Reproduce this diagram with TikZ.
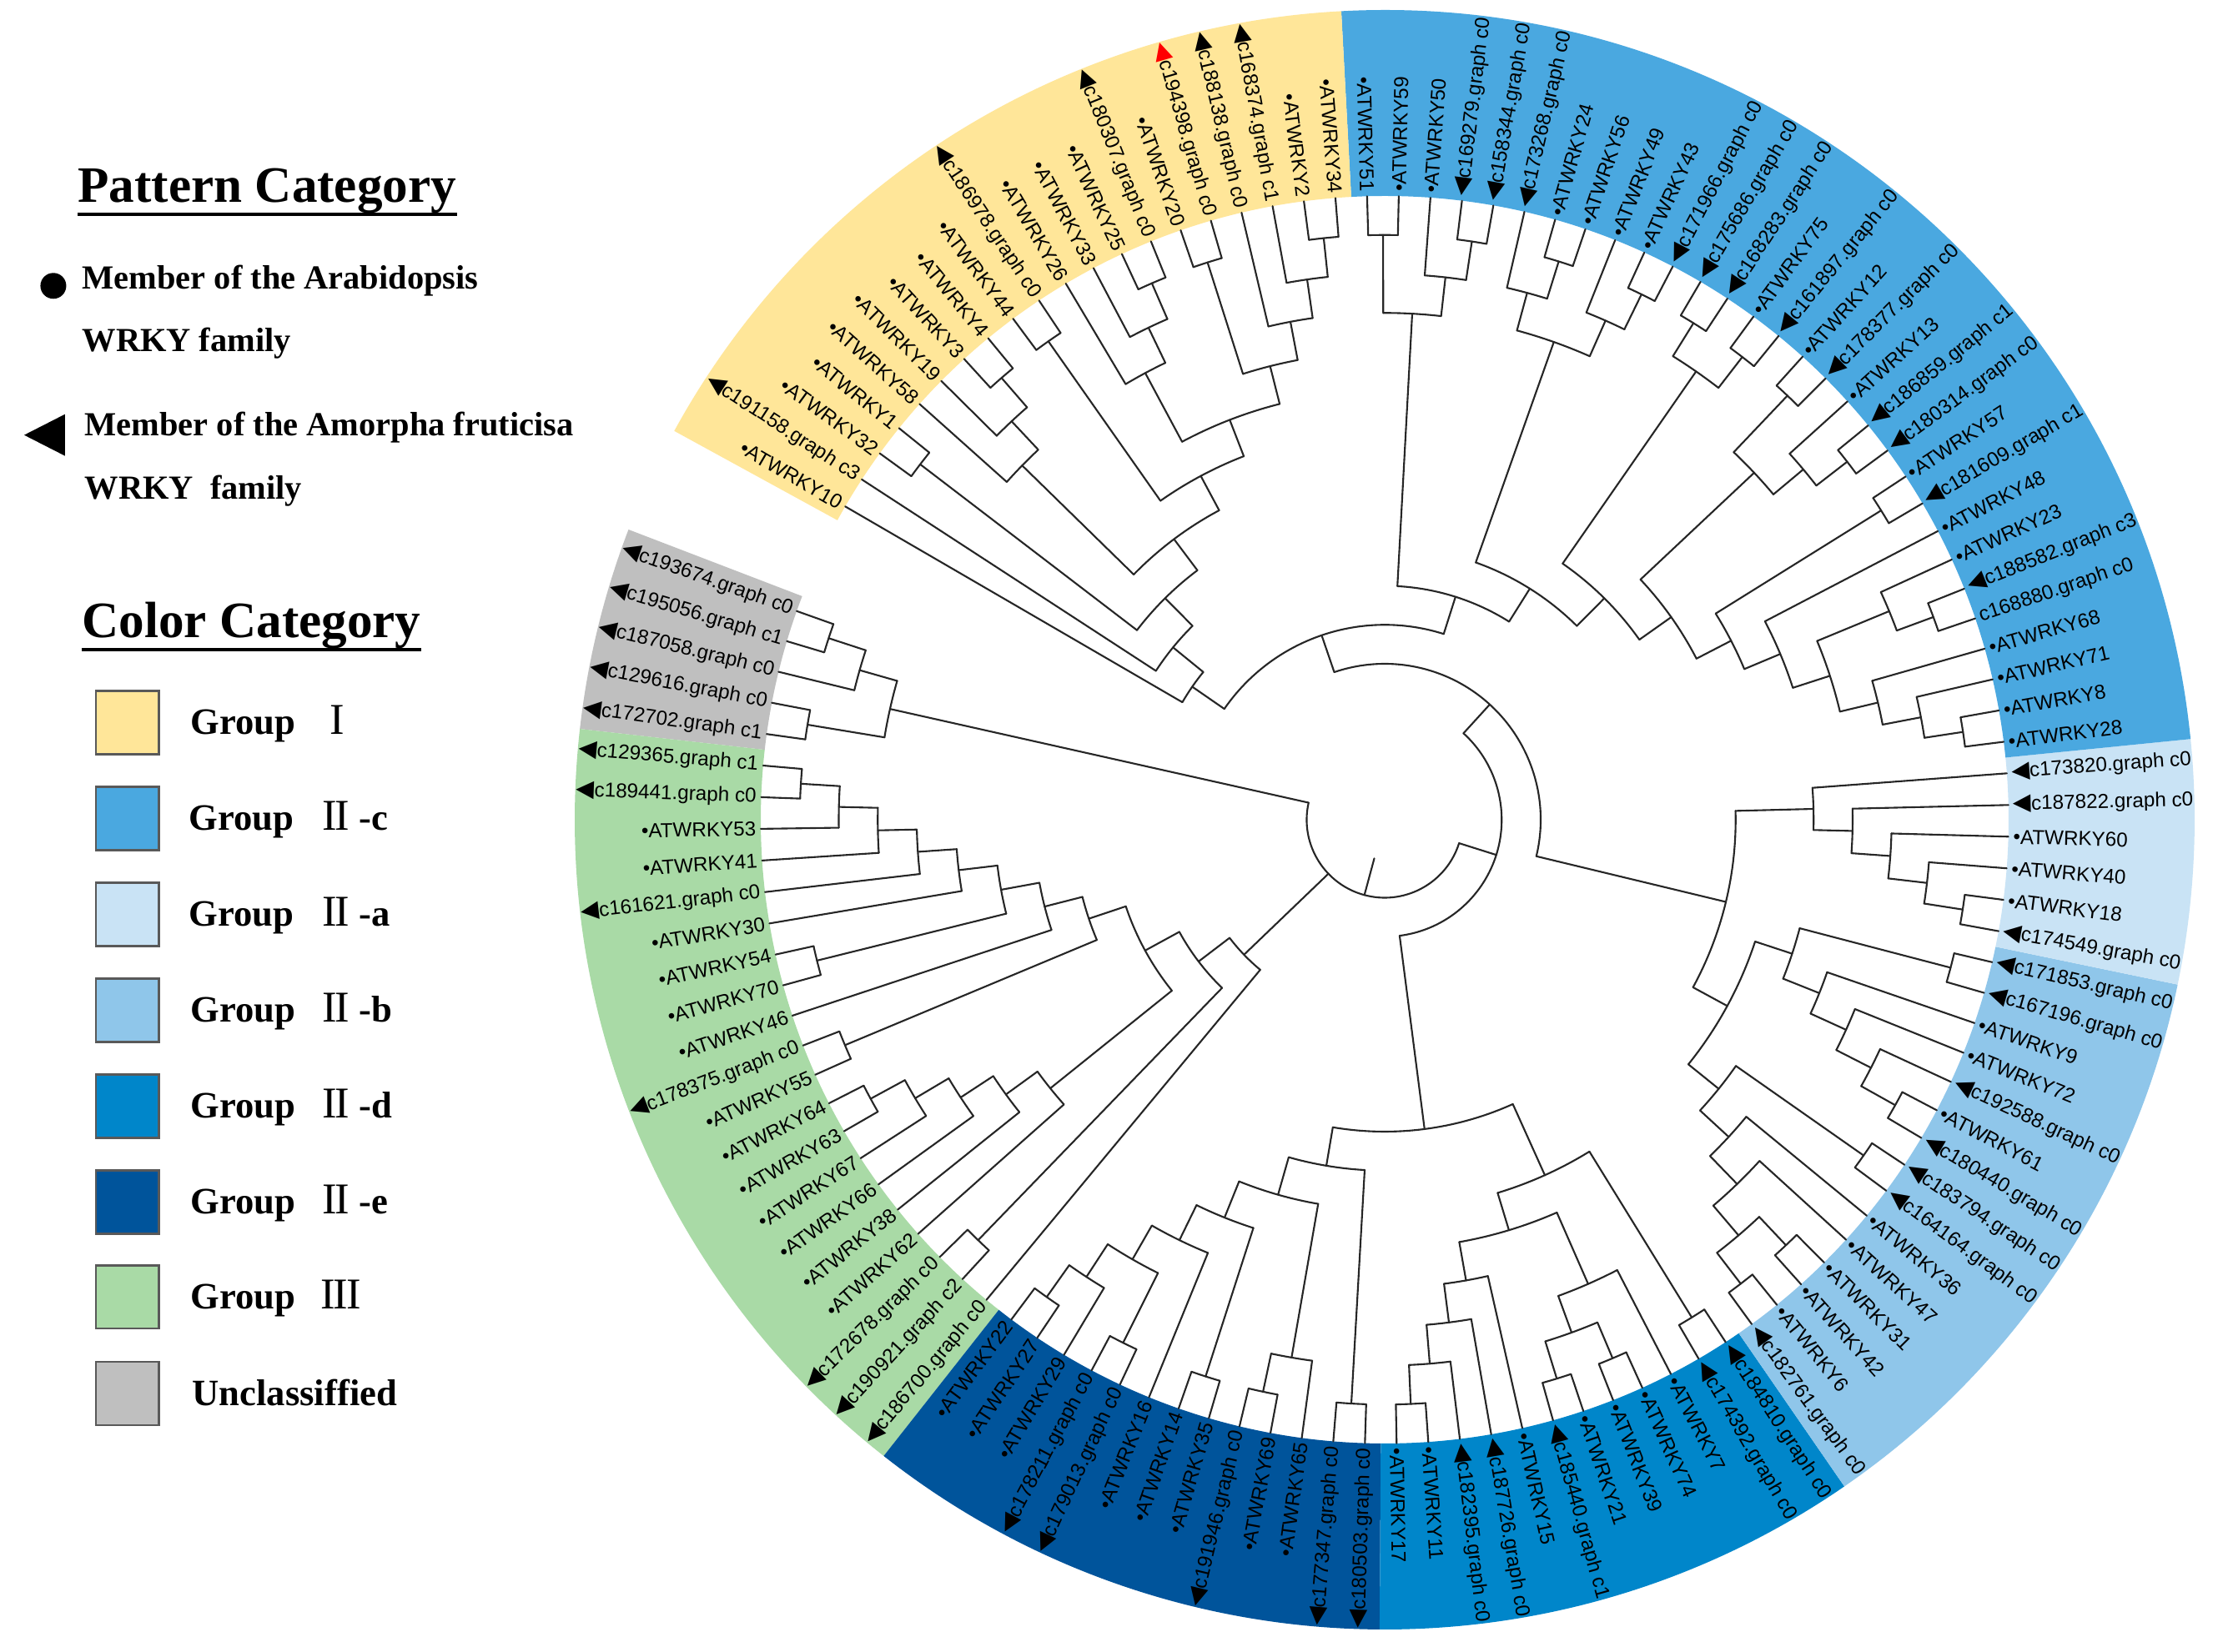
\documentclass[tikz,border=0pt]{standalone}
\usepackage{fontspec}
\setmainfont{Liberation Serif}
\newfontfamily\labf{Liberation Sans}
\newfontfamily\symf{DejaVu Sans}
\definecolor{cI}{HTML}{FFE699}
\definecolor{cIIc}{HTML}{4AA8E0}
\definecolor{cIIa}{HTML}{C9E3F5}
\definecolor{cIIb}{HTML}{8FC6EA}
\definecolor{cIId}{HTML}{0086CA}
\definecolor{cIIe}{HTML}{00549B}
\definecolor{cIII}{HTML}{A9DAA6}
\definecolor{cUn}{HTML}{BFBFBF}
\def\Rtip{7.48}\def\Rout{9.71}\def\dH{0.4675}
\def\aZero{160.456}\def\aStep{2.9116}
\def\mkd{•}
\def\mkt{{\symf\fontsize{8}{8}\selectfont ◀}}
\def\mkr{{\color{red}\symf\fontsize{8}{8}\selectfont ◀}}
\def\mkn{}
\newcommand\rnum[1]{{\mdseries\fontsize{15}{16}\selectfont #1}}
\newcommand\leaf[3]{%
  \pgfmathsetmacro\lfa{\aZero+#1*\aStep}%
  \expandafter\xdef\csname angL#1\endcsname{\lfa}%
  \expandafter\xdef\csname hhL#1\endcsname{0}%
  \expandafter\xdef\csname rrL#1\endcsname{\Rtip}%
  \coordinate (L#1) at (\lfa:\Rtip);
  \pgfmathsetmacro\lfm{mod(\lfa,360)}%
  \pgfmathsetmacro\lfr{\Rtip+0.03}%
  \ifdim\lfm pt>90pt\relax
    \ifdim\lfm pt<270pt\relax
      \pgfmathsetmacro\lfrot{\lfa-180}\def\lfanc{east}%
    \else
      \pgfmathsetmacro\lfrot{\lfa}\def\lfanc{west}%
    \fi
  \else
    \pgfmathsetmacro\lfrot{\lfa}\def\lfanc{west}%
  \fi
  \node[lab, anchor=\lfanc, rotate=\lfrot] (T#1) at (\lfa:\lfr) {\csname mk#2\endcsname#3};
}
\newcommand\clade[2]{%
  \gdef\cmin{9999}\gdef\cmax{-9999}\gdef\hmax{0}%
  \foreach \chld in {#2}{%
    \edef\caa{\csname ang\chld\endcsname}%
    \edef\chh{\csname hh\chld\endcsname}%
    \pgfmathsetmacro\tmpv{min(\cmin,\caa)}\global\let\cmin\tmpv
    \pgfmathsetmacro\tmpv{max(\cmax,\caa)}\global\let\cmax\tmpv
    \pgfmathsetmacro\tmpv{max(\hmax,\chh)}\global\let\hmax\tmpv
  }%
  \pgfmathsetmacro\cmid{(\cmin+\cmax)/2}%
  \pgfmathsetmacro\cH{\hmax+1}%
  \pgfmathsetmacro\cR{\Rtip-\cH*\dH}%
  \expandafter\xdef\csname ang#1\endcsname{\cmid}%
  \expandafter\xdef\csname hh#1\endcsname{\cH}%
  \expandafter\xdef\csname rr#1\endcsname{\cR}%
  \draw[br] (\cmin:\cR) arc[start angle=\cmin, end angle=\cmax, radius=\cR];
  \foreach \chld in {#2}{%
    \edef\caa{\csname ang\chld\endcsname}%
    \edef\crr{\csname rr\chld\endcsname}%
    \draw[br] (\caa:\cR) -- (\caa:\crr);
  }%
  \coordinate (#1) at (\cmid:\cR);
}
\newcommand\band[3]{%
  \fill[#1] (#2:\Rtip) arc[start angle=#2,end angle=#3,radius=\Rtip] -- (#3:\Rout) arc[start angle=#3,end angle=#2,radius=\Rout] -- cycle;}
\begin{document}
\begin{tikzpicture}[br/.style={line width=0.6pt, draw=black!85, line cap=round},
  lab/.style={font=\labf\fontsize{6.9}{8}\selectfont, inner sep=0.6pt},
  legt/.style={font=\bfseries\fontsize{17.4}{20}\selectfont, inner sep=0pt, anchor=base west},
  legm/.style={font=\bfseries\fontsize{11.5}{13}\selectfont, inner sep=0pt, anchor=base west},
  grp/.style={font=\bfseries\fontsize{12.7}{14}\selectfont, inner sep=0pt, anchor=base west},
  sw/.style={draw=black!65, line width=0.8pt}]
\useasboundingbox (-16.60,-9.98) rectangle (9.93,9.83);
\fill[white] (-16.60,-9.98) rectangle (9.93,9.83);
% colour bands
\band{cUn}{159.000}{173.558}
\band{cIII}{173.558}{231.790}
\band{cIIe}{231.790}{269.641}
\band{cIId}{269.641}{304.580}
\band{cIIb}{304.580}{348.254}
\band{cIIa}{348.254}{365.724}
\band{cIIc}{365.724}{453.072}
\band{cI}{453.072}{511.304}
% leaves
\leaf{0}{t}{c193674.graph c0}
\leaf{1}{t}{c195056.graph c1}
\leaf{2}{t}{c187058.graph c0}
\leaf{3}{t}{c129616.graph c0}
\leaf{4}{t}{c172702.graph c1}
\leaf{5}{t}{c129365.graph c1}
\leaf{6}{t}{c189441.graph c0}
\leaf{7}{d}{ATWRKY53}
\leaf{8}{d}{ATWRKY41}
\leaf{9}{t}{c161621.graph c0}
\leaf{10}{d}{ATWRKY30}
\leaf{11}{d}{ATWRKY54}
\leaf{12}{d}{ATWRKY70}
\leaf{13}{d}{ATWRKY46}
\leaf{14}{t}{c178375.graph c0}
\leaf{15}{d}{ATWRKY55}
\leaf{16}{d}{ATWRKY64}
\leaf{17}{d}{ATWRKY63}
\leaf{18}{d}{ATWRKY67}
\leaf{19}{d}{ATWRKY66}
\leaf{20}{d}{ATWRKY38}
\leaf{21}{d}{ATWRKY62}
\leaf{22}{t}{c172678.graph c0}
\leaf{23}{t}{c190921.graph c2}
\leaf{24}{t}{c186700.graph c0}
\leaf{25}{d}{ATWRKY22}
\leaf{26}{d}{ATWRKY27}
\leaf{27}{d}{ATWRKY29}
\leaf{28}{t}{c178211.graph c0}
\leaf{29}{t}{c179013.graph c0}
\leaf{30}{d}{ATWRKY16}
\leaf{31}{d}{ATWRKY14}
\leaf{32}{d}{ATWRKY35}
\leaf{33}{t}{c191946.graph c0}
\leaf{34}{d}{ATWRKY69}
\leaf{35}{d}{ATWRKY65}
\leaf{36}{t}{c177347.graph c0}
\leaf{37}{t}{c180503.graph c0}
\leaf{38}{d}{ATWRKY17}
\leaf{39}{d}{ATWRKY11}
\leaf{40}{t}{c182395.graph c0}
\leaf{41}{t}{c187726.graph c0}
\leaf{42}{d}{ATWRKY15}
\leaf{43}{t}{c185440.graph c1}
\leaf{44}{d}{ATWRKY21}
\leaf{45}{d}{ATWRKY39}
\leaf{46}{d}{ATWRKY74}
\leaf{47}{d}{ATWRKY7}
\leaf{48}{t}{c174392.graph c0}
\leaf{49}{t}{c184810.graph c0}
\leaf{50}{t}{c182761.graph c0}
\leaf{51}{d}{ATWRKY6}
\leaf{52}{d}{ATWRKY42}
\leaf{53}{d}{ATWRKY31}
\leaf{54}{d}{ATWRKY47}
\leaf{55}{d}{ATWRKY36}
\leaf{56}{t}{c164164.graph c0}
\leaf{57}{t}{c183794.graph c0}
\leaf{58}{t}{c180440.graph c0}
\leaf{59}{d}{ATWRKY61}
\leaf{60}{t}{c192588.graph c0}
\leaf{61}{d}{ATWRKY72}
\leaf{62}{d}{ATWRKY9}
\leaf{63}{t}{c167196.graph c0}
\leaf{64}{t}{c171853.graph c0}
\leaf{65}{t}{c174549.graph c0}
\leaf{66}{d}{ATWRKY18}
\leaf{67}{d}{ATWRKY40}
\leaf{68}{d}{ATWRKY60}
\leaf{69}{t}{c187822.graph c0}
\leaf{70}{t}{c173820.graph c0}
\leaf{71}{d}{ATWRKY28}
\leaf{72}{d}{ATWRKY8}
\leaf{73}{d}{ATWRKY71}
\leaf{74}{d}{ATWRKY68}
\leaf{75}{n}{c168880.graph c0}
\leaf{76}{t}{c188582.graph c3}
\leaf{77}{d}{ATWRKY23}
\leaf{78}{d}{ATWRKY48}
\leaf{79}{t}{c181609.graph c1}
\leaf{80}{d}{ATWRKY57}
\leaf{81}{t}{c180314.graph c0}
\leaf{82}{t}{c186859.graph c1}
\leaf{83}{d}{ATWRKY13}
\leaf{84}{t}{c178377.graph c0}
\leaf{85}{d}{ATWRKY12}
\leaf{86}{t}{c161897.graph c0}
\leaf{87}{d}{ATWRKY75}
\leaf{88}{t}{c168283.graph c0}
\leaf{89}{t}{c175686.graph c0}
\leaf{90}{t}{c171966.graph c0}
\leaf{91}{d}{ATWRKY43}
\leaf{92}{d}{ATWRKY49}
\leaf{93}{d}{ATWRKY56}
\leaf{94}{d}{ATWRKY24}
\leaf{95}{t}{c173268.graph c0}
\leaf{96}{t}{c158344.graph c0}
\leaf{97}{t}{c169279.graph c0}
\leaf{98}{d}{ATWRKY50}
\leaf{99}{d}{ATWRKY59}
\leaf{100}{d}{ATWRKY51}
\leaf{101}{d}{ATWRKY34}
\leaf{102}{d}{ATWRKY2}
\leaf{103}{t}{c168374.graph c1}
\leaf{104}{t}{c188138.graph c0}
\leaf{105}{r}{c194398.graph c0}
\leaf{106}{d}{ATWRKY20}
\leaf{107}{t}{c180307.graph c0}
\leaf{108}{d}{ATWRKY25}
\leaf{109}{d}{ATWRKY33}
\leaf{110}{d}{ATWRKY26}
\leaf{111}{t}{c186978.graph c0}
\leaf{112}{d}{ATWRKY44}
\leaf{113}{d}{ATWRKY4}
\leaf{114}{d}{ATWRKY3}
\leaf{115}{d}{ATWRKY19}
\leaf{116}{d}{ATWRKY58}
\leaf{117}{d}{ATWRKY1}
\leaf{118}{d}{ATWRKY32}
\leaf{119}{t}{c191158.graph c3}
\leaf{120}{d}{ATWRKY10}
% unclassified
\clade{Ga}{L0,L1}
\clade{Gb}{Ga,L2}
\clade{Gc}{L3,L4}
\clade{Gd}{Gb,Gc}
% group III
\clade{E1}{L5,L6}
\clade{E2}{E1,L7}
\clade{E3}{E2,L8}
\clade{E4}{E3,L9}
\clade{E5}{E4,L10}
\clade{E6}{L11,L12}
\clade{E7}{E5,E6}
\clade{E8}{E7,L13}
\clade{E9}{L14,L15}
\clade{E10}{E8,E9}
\clade{F1}{L16,L17}
\clade{F2}{F1,L18}
\clade{F3}{F2,L19}
\clade{F4}{F3,L20}
\clade{F5}{F4,L21}
\clade{E11}{E10,F5}
\clade{F6}{L22,L23}
\clade{E12}{E11,F6}
\clade{E13}{E12,L24}
% group II-e
\clade{H1}{L25,L26}
\clade{H2}{H1,L27}
\clade{H4}{L28,L29}
\clade{H3}{H2,H4}
\clade{H12}{H3,L30}
\clade{H10}{L31,L32}
\clade{H11}{H12,H10}
\clade{H8}{L33,L34}
\clade{H9}{H8,L35}
\clade{H7}{H11,H9}
\clade{H5}{L36,L37}
\clade{H6}{H7,H5}
% group II-d
\clade{D1}{L38,L39}
\clade{D2}{D1,L40}
\clade{D3}{D2,L41}
\clade{D4}{D3,L42}
\clade{D8}{L43,L44}
\clade{D9}{L45,L46}
\clade{D7}{D8,D9}
\clade{D6}{D7,L47}
\clade{D5}{D4,D6}
\clade{D10}{L48,L49}
\clade{NQ}{D5,D10}
\clade{NP}{H6,NQ}
% group II-b
\clade{B1}{L63,L64}
\clade{B5}{L58,L59}
\clade{B6}{L60,B5}
\clade{B4}{L61,B6}
\clade{B3}{L62,B4}
\clade{B2}{B1,B3}
\clade{B10}{L52,L53}
\clade{B11}{L50,L51}
\clade{B12}{B11,B10}
\clade{B13}{B12,L54}
\clade{B14}{B13,L55}
\clade{B9}{L56,L57}
\clade{B15}{B14,B9}
\clade{B7}{B15,B2}
% group II-a
\clade{A1}{L65,L66}
\clade{A2}{A1,L67}
\clade{A3}{A2,L68}
\clade{A4}{A3,L69}
\clade{A5}{A4,L70}
\clade{NR}{B7,A5}
% group II-c
\clade{C1}{L71,L72}
\clade{C2}{C1,L73}
\clade{C3}{C2,L74}
\clade{C5}{L75,L76}
\clade{C6}{C5,L77}
\clade{C4}{C3,C6}
\clade{C7}{C4,L78}
\clade{C8}{L79,L80}
\clade{C13}{C7,C8}
\clade{C9}{L81,L82}
\clade{C10}{C9,L83}
\clade{C12}{L84,L85}
\clade{C11}{C10,C12}
\clade{C14}{C13,C11}
\clade{T11}{L86,L87}
\clade{T10}{L88,L89}
\clade{T12}{T11,T10}
\clade{C15}{C14,T12}
\clade{T8}{L90,L91}
\clade{T9}{T8,L92}
\clade{T5}{L93,L94}
\clade{T6}{T5,L95}
\clade{T7}{T9,T6}
\clade{C16}{C15,T7}
\clade{T3}{L96,L97}
\clade{T4}{T3,L98}
\clade{T2}{L99,L100}
\clade{T1}{T4,T2}
\clade{CE}{C16,T1}
% group I
\clade{Na}{L101,L102}
\clade{Nb}{Na,L103}
\clade{Nc}{Nb,L104}
\clade{Nd}{L105,L106}
\clade{Nf}{Nc,Nd}
\clade{Ne}{L107,L108}
\clade{Nh}{Ne,L109}
\clade{Ni}{Nh,L110}
\clade{Ng}{Nf,Ni}
\clade{Ny3}{L111,L112}
\clade{Nk}{Ng,Ny3}
\clade{Ny2}{L113,L114}
\clade{Ny4}{Ny2,L115}
\clade{Ny5}{Ny4,L116}
\clade{Nl}{Nk,Ny5}
\clade{Ny1}{L117,L118}
\clade{Nm}{Nl,Ny1}
\clade{Nn}{Nm,L119}
\clade{No}{Nn,L120}
% backbone
\clade{ND}{CE,No}
\clade{NB}{NR,ND}
\clade{NC}{NP,NB}
\clade{root}{Gd,E13,NC}
\edef\rta{\csname angroot\endcsname}
\coordinate (rootbase) at (\rta:0.48);
\draw[br] (root) -- (rootbase);
% legend
\begin{scope}[shift={(-16.60,9.83)}, x=0.01cm, y=-0.01cm]
\node[legt] (pc) at (93,243) {Pattern Category};
\draw[line width=1.1pt] (pc.south west) -- (pc.south east);
\fill (64,343) circle[radius=0.155cm];
\node[legm] (m1) at (98,347) {Member of the Arabidopsis};
\node[legm] (m2) at (98,422) {WRKY family};
\fill (29,522) -- (78,497) -- (78,547) -- cycle;
\node[legm] (m3) at (101,523) {Member of the Amorpha fruticisa};
\node[legm] (m4) at (101,599) {WRKY\ \ family};
\node[legt] (cc) at (98,765) {Color Category};
\draw[line width=1.1pt] (cc.south west) -- (cc.south east);
\draw[sw, fill=cI]   (115,829) rectangle (191,905);
\draw[sw, fill=cIIc] (115,944) rectangle (191,1020);
\draw[sw, fill=cIIa] (115,1059) rectangle (191,1135);
\draw[sw, fill=cIIb] (115,1174) rectangle (191,1250);
\draw[sw, fill=cIId] (115,1289) rectangle (191,1365);
\draw[sw, fill=cIIe] (115,1404) rectangle (191,1480);
\draw[sw, fill=cIII] (115,1518) rectangle (191,1594);
\draw[sw, fill=cUn]  (115,1634) rectangle (191,1710);
\node[grp] (g1) at (228,881) {Group};
\node[grp] (n1) at (395,881) {\rnum{I}};
\node[grp] (g2) at (226,996) {Group};
\node[grp] (n2) at (386,996) {\rnum{I\kern-0.04em I} -c};
\node[grp] (g3) at (226,1111) {Group};
\node[grp] (n3) at (386,1111) {\rnum{I\kern-0.04em I} -a};
\node[grp] (g4) at (228,1226) {Group};
\node[grp] (n4) at (386,1226) {\rnum{I\kern-0.04em I} -b};
\node[grp] (g5) at (228,1341) {Group};
\node[grp] (n5) at (386,1341) {\rnum{I\kern-0.04em I} -d};
\node[grp] (g6) at (228,1456) {Group};
\node[grp] (n6) at (386,1456) {\rnum{I\kern-0.04em I} -e};
\node[grp] (g7) at (228,1570) {Group};
\node[grp] (n7) at (384,1570) {\rnum{I\kern-0.04em I\kern-0.04em I}};
\node[grp] (g8) at (230,1686) {Unclassiffied};
\end{scope}
\end{tikzpicture}
\end{document}
